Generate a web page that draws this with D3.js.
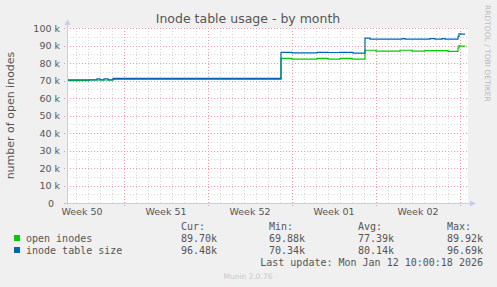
<!DOCTYPE html>
<html>
<head>
<meta charset="utf-8">
<script src="https://cdn.jsdelivr.net/npm/d3@7.9.0/dist/d3.min.js"></script>
<style>
  body { margin: 0; background: #f0f0f0; }
  svg { display: block; }
  text { font-family: "DejaVu Sans", sans-serif; }
  .mono { font-family: "DejaVu Sans Mono", monospace; font-size: 10px; fill: #555; }
</style>
</head>
<body>
<svg id="chart" width="497" height="287"></svg>
<script>
// step change points, values in inodes
const openTimes = ['2025-12-10T06:00', '2025-12-12T02:00', '2025-12-14T02:00', '2025-12-28T02:00',
  '2025-12-29T00:00', '2025-12-31T02:00', '2026-01-01T00:00', '2026-01-02T00:00', '2026-01-03T00:00',
  '2026-01-04T02:00', '2026-01-05T00:00', '2026-01-07T00:00', '2026-01-08T00:00', '2026-01-09T02:00',
  '2026-01-11T00:00', '2026-01-11T20:00', '2026-01-11T22:00', '2026-01-12T00:00', '2026-01-12T10:00'];
const openValues = [69880, 70300, 70600, 82700,
  82200, 82700, 82200, 82700, 82200,
  87300, 86800, 87300, 86800, 87100,
  86700, 88600, 89920, 89700, 89700];

const sizeTimes = ['2025-12-10T06:00', '2025-12-12T18:00', '2025-12-13T00:00', '2025-12-13T08:00',
  '2025-12-13T16:00', '2025-12-14T02:00', '2025-12-28T02:00', '2025-12-29T00:00', '2025-12-31T02:00',
  '2026-01-01T00:00', '2026-01-02T00:00', '2026-01-03T02:00', '2026-01-04T02:00', '2026-01-04T12:00',
  '2026-01-07T04:00', '2026-01-07T10:00', '2026-01-09T12:00', '2026-01-09T22:00', '2026-01-10T12:00',
  '2026-01-10T18:00', '2026-01-11T20:00', '2026-01-11T22:00', '2026-01-12T02:00', '2026-01-12T10:00'];
const sizeValues = [70340, 71000, 70400, 71000,
  70400, 71200, 86100, 85800, 86100,
  86000, 86100, 85700, 94200, 93600,
  93900, 93600, 93900, 93600, 93900,
  93600, 95200, 96690, 96480, 96480];

const yTicks = [0, 10000, 20000, 30000, 40000, 50000, 60000, 70000, 80000, 90000, 100000];

const legendNames = ['open inodes', 'inode table size'];
const legendColors = ['#00cc00', '#0066b3'];
const legendHeads = ['Cur:', 'Min:', 'Avg:', 'Max:'];
const legendRows = [
  ['89.70k', '69.88k', '77.39k', '89.92k'],
  ['96.48k', '70.34k', '80.14k', '96.69k']
];

const svg = d3.select('#chart');
const plotL = 67, plotR = 468, plotT = 28, plotB = 203;

const x = d3.scaleTime()
  .domain([new Date('2025-12-10T06:00'), new Date('2026-01-12T16:00')])
  .range([plotL, plotR]);
const y = d3.scaleLinear().domain([0, 100000]).range([plotB, plotT]);

// plot canvas
svg.append('rect')
  .attr('x', plotL).attr('y', plotT)
  .attr('width', plotR - plotL).attr('height', plotB - plotT)
  .attr('fill', '#fff');

let grid = svg.append('g').attr('shape-rendering', 'crispEdges');
let minorY = d3.range(5000, 100000, 10000);
let days = d3.timeDay.range(x.domain()[0], x.domain()[1]);
let mondays = d3.timeMonday.range(d3.timeDay.offset(x.domain()[0], -7), x.domain()[1]);

days.forEach(d => {
  grid.append('line')
    .attr('x1', Math.round(x(d)) + 0.5).attr('x2', Math.round(x(d)) + 0.5)
    .attr('y1', plotT).attr('y2', plotB)
    .attr('stroke', '#d8d8d8').attr('stroke-dasharray', '1,2');
});
minorY.forEach(v => {
  grid.append('line')
    .attr('x1', plotL).attr('x2', plotR)
    .attr('y1', Math.round(y(v)) + 0.5).attr('y2', Math.round(y(v)) + 0.5)
    .attr('stroke', '#d8d8d8').attr('stroke-dasharray', '1,2');
});
mondays.filter(d => x(d) > plotL).forEach(d => {
  grid.append('line')
    .attr('x1', Math.round(x(d)) + 0.5).attr('x2', Math.round(x(d)) + 0.5)
    .attr('y1', plotT).attr('y2', plotB + 3)
    .attr('stroke', '#eaa0a0').attr('stroke-dasharray', '1,2');
});
yTicks.forEach(v => {
  grid.append('line')
    .attr('x1', plotL - 3).attr('x2', plotR)
    .attr('y1', Math.round(y(v)) + 0.5).attr('y2', Math.round(y(v)) + 0.5)
    .attr('stroke', '#eaa0a0').attr('stroke-dasharray', '1,2');
});

// lines
let line = d3.line()
  .x(d => x(d[0]))
  .y(d => y(d[1]))
  .curve(d3.curveStepAfter);

let openData = openTimes.map((t, i) => [new Date(t), openValues[i]]);
let sizeData = sizeTimes.map((t, i) => [new Date(t), sizeValues[i]]);

svg.append('path').attr('d', line(openData))
  .attr('fill', 'none').attr('stroke', legendColors[0]).attr('stroke-width', 1.2);
svg.append('path').attr('d', line(sizeData))
  .attr('fill', 'none').attr('stroke', legendColors[1]).attr('stroke-width', 1.2);

// axes with arrows
let axisColor = '#c8cdf0';
svg.append('line').attr('x1', plotL + 0.5).attr('x2', plotL + 0.5)
  .attr('y1', plotB + 2).attr('y2', plotT - 4)
  .attr('stroke', axisColor).attr('shape-rendering', 'crispEdges');
svg.append('line').attr('x1', plotL - 2).attr('x2', plotR + 3)
  .attr('y1', plotB + 0.5).attr('y2', plotB + 0.5)
  .attr('stroke', axisColor).attr('shape-rendering', 'crispEdges');
svg.append('path').attr('d', `M${plotL - 2.5},${plotT - 3}L${plotL + 3.5},${plotT - 3}L${plotL + 0.5},${plotT - 9}Z`)
  .attr('fill', axisColor);
svg.append('path').attr('d', `M${plotR + 2},${plotB - 2.5}L${plotR + 2},${plotB + 3.5}L${plotR + 8},${plotB + 0.5}Z`)
  .attr('fill', axisColor);

// tick labels
svg.selectAll('.ylab').data(yTicks).enter().append('text')
  .attr('x', d => d === 0 ? 54 : 60).attr('y', d => y(d) + 3.5)
  .attr('text-anchor', 'end')
  .attr('font-size', 9.5).attr('fill', '#555')
  .text(d => d === 0 ? '0' : d / 1000 + ' k');

let weekFmt = d3.timeFormat('Week %V');
mondays.map(d => d3.timeHour.offset(d, 84))
  .filter(d => x(d) > plotL && x(d) < plotR)
  .forEach(d => {
    svg.append('text')
      .attr('x', x(d)).attr('y', 215)
      .attr('text-anchor', 'middle')
      .attr('font-size', 9.5).attr('fill', '#555')
      .text(weekFmt(d));
  });

// titles
svg.append('text').attr('x', 248).attr('y', 23)
  .attr('text-anchor', 'middle').attr('font-size', 12.5).attr('fill', '#555')
  .text('Inode table usage - by month');
svg.append('text')
  .attr('transform', `translate(14,${(plotT + plotB) / 2}) rotate(-90)`)
  .attr('text-anchor', 'middle').attr('font-size', 11).attr('fill', '#555')
  .text('number of open inodes');
svg.append('text')
  .attr('transform', 'translate(485,5) rotate(90)')
  .attr('font-size', 7.5).attr('fill', '#bbb')
  .text('RRDTOOL / TOBI OETIKER');

// legend
let colX = [181, 269, 358, 447];
legendHeads.forEach((h, i) => {
  svg.append('text').attr('class', 'mono').attr('x', colX[i]).attr('y', 230).text(h);
});
legendNames.forEach((name, r) => {
  let yy = 242 + r * 12;
  svg.append('rect').attr('x', 14).attr('y', yy - 7).attr('width', 6).attr('height', 6)
    .attr('fill', legendColors[r]);
  svg.append('text').attr('class', 'mono').attr('x', 26).attr('y', yy).text(name);
  legendRows[r].forEach((v, i) => {
    svg.append('text').attr('class', 'mono').attr('x', colX[i]).attr('y', yy).text(v);
  });
});
svg.append('text').attr('class', 'mono').attr('x', 483).attr('y', 266)
  .attr('text-anchor', 'end')
  .text('Last update: Mon Jan 12 10:00:18 2026');
svg.append('text').attr('x', 248).attr('y', 279)
  .attr('text-anchor', 'middle').attr('font-size', 7.5).attr('fill', '#c8c8c8')
  .text('Munin 2.0.76');
</script>
</body>
</html>
